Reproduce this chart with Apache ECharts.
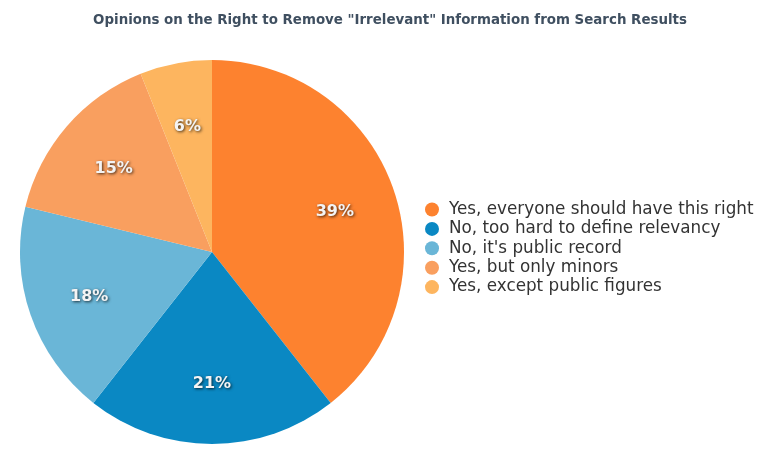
<!DOCTYPE html>
<html>
<head>
<meta charset="utf-8">
<script src="https://cdn.jsdelivr.net/npm/echarts@6/dist/echarts.min.js"></script>
<style>
html,body{margin:0;padding:0;background:#fff;}
#chart{width:768px;height:465px;}
</style>
</head>
<body>
<div id="chart"></div>
<script>
var categories=['Yes, everyone should have this right','No, too hard to define relevancy',"No, it's public record",'Yes, but only minors','Yes, except public figures'];
var values=[39,21,18,15,6];
var colors=['#fd822f','#0a88c3','#6ab6d7','#f99f5f','#fdb55f'];

var pieData=categories.map(function(c,i){
	return {name:c,value:values[i],itemStyle:{color:colors[i]}};
});

var chart=echarts.init(document.getElementById('chart'));
var option={
	animation:false,
	title:{
		text:'Opinions on the Right to Remove "Irrelevant" Information from Search Results',
		left:385,
		textAlign:'center',
		top:9,
		textStyle:{
			fontFamily:'DejaVu Sans',
			fontSize:13.4,
			fontWeight:'bold',
			color:'#3f4f60'
		}
	},
	legend:{
		orient:'vertical',
		left:420,
		top:196,
		icon:'circle',
		itemWidth:24,
		itemHeight:14,
		itemGap:2.4,
		data:categories,
		textStyle:{
			fontFamily:'DejaVu Sans',
			fontSize:16.8,
			color:'#333'
		}
	},
	series:[{
		type:'pie',
		center:[212,252],
		radius:[0,192],
		startAngle:90,
		clockwise:true,
		label:{show:false},
		labelLine:{show:false},
		emphasis:{disabled:true},
		data:pieData
	},{
		// transparent ring that only carries the labels
		type:'pie',
		center:[212,254],
		radius:[62,192],
		startAngle:90,
		clockwise:true,
		silent:true,
		itemStyle:{color:'transparent'},
		label:{
			show:true,
			position:'inside',
			formatter:'{c}%',
			fontFamily:'DejaVu Sans',
			fontSize:16,
			fontWeight:'bold',
			color:'#f4f4f4',
			textShadowColor:'rgba(0,0,0,0.75)',
			textShadowBlur:3,
			textShadowOffsetX:1,
			textShadowOffsetY:1
		},
		labelLine:{show:false},
		emphasis:{disabled:true},
		data:values.map(function(v,i){return {name:categories[i],value:v};})
	}]
};
chart.setOption(option);
</script>
</body>
</html>
